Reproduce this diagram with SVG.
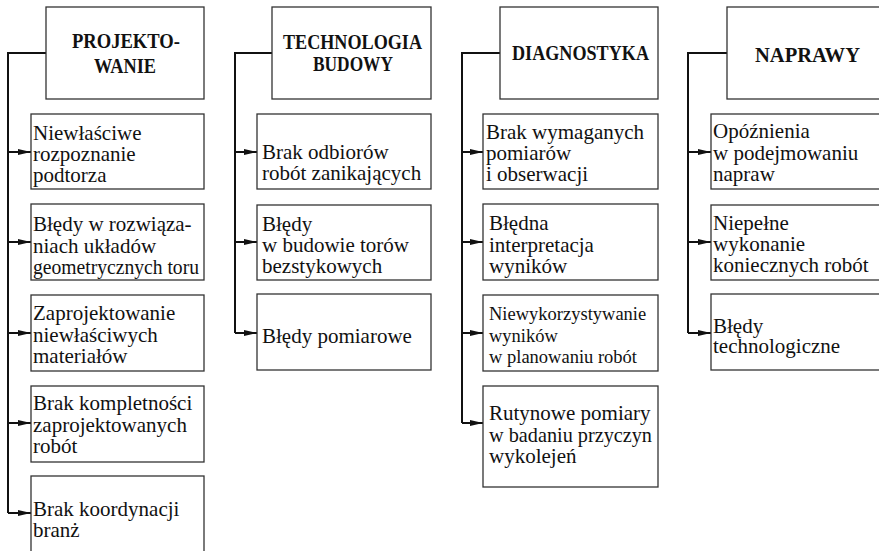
<svg xmlns="http://www.w3.org/2000/svg" width="879" height="551" viewBox="0 0 879 551">
<style>
.box{fill:#fff;stroke:#333;stroke-width:1.3}
.hd{font-family:"Liberation Serif","Times New Roman",serif;font-weight:bold;font-size:20px;fill:#111;text-anchor:middle}
.tx{font-family:"Liberation Serif","Times New Roman",serif;font-size:21px;fill:#111}
.sm{font-size:18.5px}
.ln{fill:none;stroke:#111;stroke-width:2}
</style>
<defs>
<marker id="ah" markerWidth="13" markerHeight="7" refX="13" refY="3.5" orient="auto" markerUnits="userSpaceOnUse">
<path d="M0,0.5 L13,3.5 L0,6.5 Z" fill="#111"/>
</marker>
</defs>
<g id="connectors">
<path class="ln" d="M46,53 H8 V513"/>
<path class="ln" d="M8,152 H31" marker-end="url(#ah)"/>
<path class="ln" d="M8,242 H31" marker-end="url(#ah)"/>
<path class="ln" d="M8,333 H31" marker-end="url(#ah)"/>
<path class="ln" d="M8,423 H31" marker-end="url(#ah)"/>
<path class="ln" d="M8,513 H31" marker-end="url(#ah)"/>
<path class="ln" d="M272,53 H235 V333"/>
<path class="ln" d="M235,152 H257" marker-end="url(#ah)"/>
<path class="ln" d="M235,242 H257" marker-end="url(#ah)"/>
<path class="ln" d="M235,333 H257" marker-end="url(#ah)"/>
<path class="ln" d="M500,53 H462 V423"/>
<path class="ln" d="M462,152 H483" marker-end="url(#ah)"/>
<path class="ln" d="M462,242 H483" marker-end="url(#ah)"/>
<path class="ln" d="M462,333 H483" marker-end="url(#ah)"/>
<path class="ln" d="M462,423 H483" marker-end="url(#ah)"/>
<path class="ln" d="M727,53 H688 V333"/>
<path class="ln" d="M688,152 H711" marker-end="url(#ah)"/>
<path class="ln" d="M688,242 H711" marker-end="url(#ah)"/>
<path class="ln" d="M688,333 H711" marker-end="url(#ah)"/>
</g>
<g id="projektowanie">
<rect class="box" x="46" y="7" width="158" height="92"/>
<text class="hd" x="126" y="48" textLength="108" lengthAdjust="spacingAndGlyphs">PROJEKTO-</text>
<text class="hd" x="125" y="73" textLength="62" lengthAdjust="spacingAndGlyphs">WANIE</text>
</g>
<g id="p1"><rect class="box" x="31" y="114" width="173" height="75"/>
<text class="tx" x="33" y="140">Niewłaściwe</text><text class="tx" x="33" y="161">rozpoznanie</text><text class="tx" x="33" y="182">podtorza</text></g>
<g id="p2"><rect class="box" x="31" y="204" width="173" height="76"/>
<text class="tx" x="33" y="231">Błędy w rozwiąza-</text><text class="tx" x="33" y="253">niach układów</text><text class="tx" x="33" y="274" textLength="166" lengthAdjust="spacingAndGlyphs">geometrycznych toru</text></g>
<g id="p3"><rect class="box" x="31" y="295" width="173" height="76"/>
<text class="tx" x="33" y="320">Zaprojektowanie</text><text class="tx" x="33" y="342">niewłaściwych</text><text class="tx" x="33" y="363">materiałów</text></g>
<g id="p4"><rect class="box" x="31" y="386" width="173" height="76"/>
<text class="tx" x="33" y="410">Brak kompletności</text><text class="tx" x="33" y="432">zaprojektowanych</text><text class="tx" x="33" y="453">robót</text></g>
<g id="p5"><rect class="box" x="31" y="476" width="173" height="80"/>
<text class="tx" x="33" y="516">Brak koordynacji</text><text class="tx" x="33" y="537">branż</text></g>

<g id="technologia">
<rect class="box" x="272" y="7" width="159" height="92"/>
<text class="hd" x="352.5" y="49" textLength="139" lengthAdjust="spacingAndGlyphs">TECHNOLOGIA</text>
<text class="hd" x="353" y="71" textLength="80" lengthAdjust="spacingAndGlyphs">BUDOWY</text>
</g>
<g id="t1"><rect class="box" x="257" y="114" width="174" height="75"/>
<text class="tx" x="262" y="159">Brak odbiorów</text><text class="tx" x="262" y="180">robót zanikających</text></g>
<g id="t2"><rect class="box" x="257" y="205" width="174" height="75"/>
<text class="tx" x="262" y="231">Błędy</text><text class="tx" x="262" y="252">w budowie torów</text><text class="tx" x="262" y="273">bezstykowych</text></g>
<g id="t3"><rect class="box" x="257" y="294" width="174" height="76"/>
<text class="tx" x="262" y="343">Błędy pomiarowe</text></g>

<g id="diagnostyka">
<rect class="box" x="500" y="7" width="158" height="92"/>
<text class="hd" x="580.5" y="60" textLength="137" lengthAdjust="spacingAndGlyphs">DIAGNOSTYKA</text>
</g>
<g id="d1"><rect class="box" x="483" y="114" width="175" height="75"/>
<text class="tx" x="486" y="139">Brak wymaganych</text><text class="tx" x="486" y="160">pomiarów</text><text class="tx" x="486" y="181">i obserwacji</text></g>
<g id="d2"><rect class="box" x="483" y="204" width="175" height="76"/>
<text class="tx" x="489" y="230">Błędna</text><text class="tx" x="489" y="252">interpretacja</text><text class="tx" x="489" y="273">wyników</text></g>
<g id="d3"><rect class="box" x="483" y="295" width="175" height="76"/>
<text class="tx sm" x="489" y="320">Niewykorzystywanie</text><text class="tx sm" x="489" y="342">wyników</text><text class="tx sm" x="489" y="363">w planowaniu robót</text></g>
<g id="d4"><rect class="box" x="483" y="386" width="175" height="101"/>
<text class="tx" x="489" y="420">Rutynowe pomiary</text><text class="tx" x="489" y="442" textLength="163" lengthAdjust="spacingAndGlyphs">w badaniu przyczyn</text><text class="tx" x="489" y="463">wykolejeń</text></g>

<g id="naprawy">
<rect class="box" x="727" y="7" width="160" height="92"/>
<text class="hd" x="807.5" y="62" textLength="105" lengthAdjust="spacingAndGlyphs">NAPRAWY</text>
</g>
<g id="n1"><rect class="box" x="711" y="114" width="175" height="75"/>
<text class="tx" x="713" y="138">Opóźnienia</text><text class="tx" x="713" y="160">w podejmowaniu</text><text class="tx" x="713" y="181">napraw</text></g>
<g id="n2"><rect class="box" x="711" y="205" width="175" height="75"/>
<text class="tx" x="713" y="230">Niepełne</text><text class="tx" x="713" y="251">wykonanie</text><text class="tx" x="713" y="272">koniecznych robót</text></g>
<g id="n3"><rect class="box" x="711" y="294" width="175" height="76"/>
<text class="tx" x="713" y="333">Błędy</text><text class="tx" x="713" y="353">technologiczne</text></g>
</svg>
